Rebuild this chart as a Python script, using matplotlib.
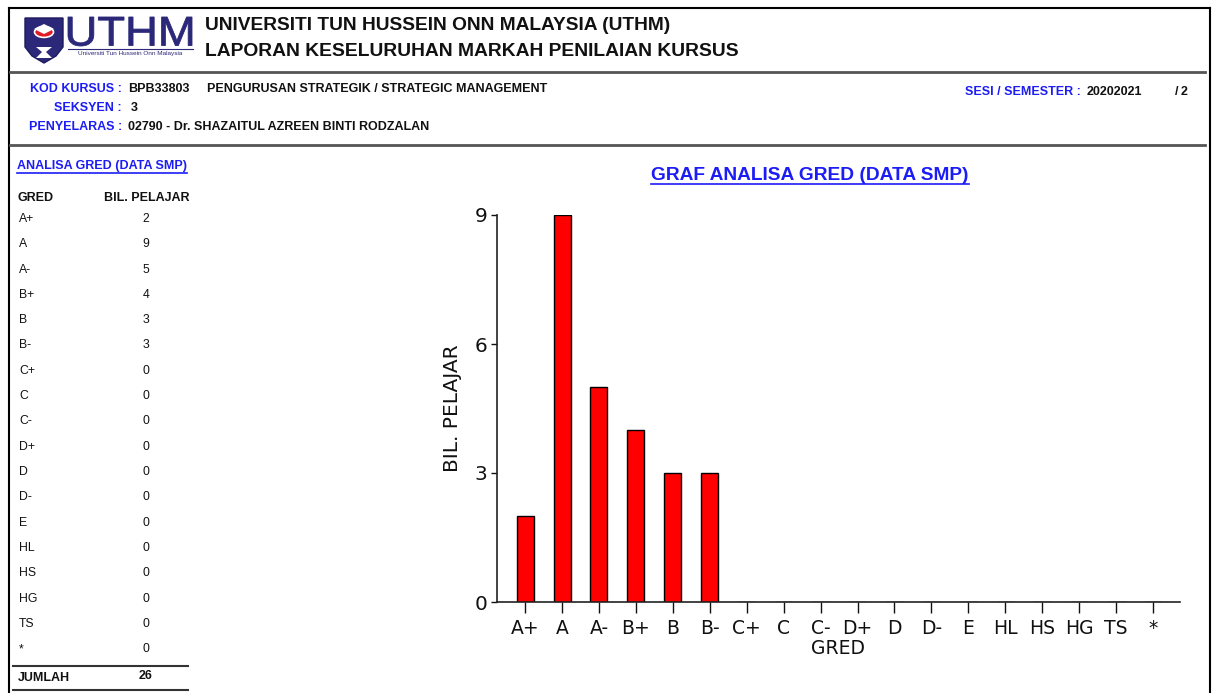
import matplotlib
matplotlib.use("Agg")
import matplotlib.pyplot as plt
from matplotlib.patches import Polygon, Circle, PathPatch
from matplotlib.lines import Line2D
from matplotlib.textpath import TextPath
from matplotlib.font_manager import FontProperties
import matplotlib.transforms as mtransforms

# --- data ---
grades = ["A+", "A", "A-", "B+", "B", "B-", "C+", "C", "C-", "D+",
          "D", "D-", "E", "HL", "HS", "HG", "TS", "*"]
counts = [2, 9, 5, 4, 3, 3, 0, 0, 0, 0, 0, 0, 0, 0, 0, 0, 0, 0]
yticks = [0, 3, 6, 9]

kod_kursus = "BPB33803"
nama_kursus = "PENGURUSAN STRATEGIK / STRATEGIC MANAGEMENT"
seksyen = "3"
penyelaras = "02790 - Dr. SHAZAITUL AZREEN BINTI RODZALAN"
sesi = "20202021"
semester = "2"

W, H = 1218, 693
BLUE = "#1c1cf5"
NAVY = "#2b2879"
ARIAL = "Liberation Sans"

fig = plt.figure(figsize=(W / 100, H / 100), dpi=100)


def px(x, y):
    return x / W, 1 - y / H


def txt(x, y, s, **kw):
    kw.setdefault("family", ARIAL)
    kw.setdefault("va", "center")
    return fig.text(*px(x, y), s, **kw)


def hline(x0, x1, y, color="#555555", lw=2.0):
    fig.add_artist(Line2D([x0 / W, x1 / W], [1 - y / H, 1 - y / H],
                          color=color, lw=lw, transform=fig.transFigure))


def vline(x, y0, y1, color="black", lw=1.5):
    fig.add_artist(Line2D([x / W, x / W], [1 - y0 / H, 1 - y1 / H],
                          color=color, lw=lw, transform=fig.transFigure))


def squeezed(s, x0, x1, ytop, ybot, bold=False, color=NAVY):
    # text stretched into a pixel box (logo lettering is condensed)
    tp = TextPath((0, 0), s, size=100,
                  prop=FontProperties(family=ARIAL, weight="bold" if bold else "normal"))
    bb = tp.get_extents()
    tr = (mtransforms.Affine2D().translate(-bb.x0, -bb.y0)
          .scale((x1 - x0) / bb.width, (ybot - ytop) / bb.height)
          .translate(x0, H - ybot))
    fig.add_artist(PathPatch(tp, transform=tr, facecolor=color, edgecolor=color, lw=0.6))


# page border
hline(9, 1210, 8, color="black", lw=1.5)
vline(9, 8, 693)
vline(1210, 8, 693)

# --- logo ---
shield = [(25, 18), (63, 18), (63, 47), (56, 56), (44, 63), (32, 56), (25, 47)]
fig.add_artist(Polygon([px(*p) for p in shield], closed=True, facecolor=NAVY,
                       edgecolor="#1d1a5e", lw=1, transform=fig.transFigure))
fig.add_artist(Circle(px(44, 32), 9.5 / W, facecolor="#e01b24", edgecolor="white",
                      lw=1.2, transform=fig.transFigure))
fig.add_artist(Polygon([px(*p) for p in [(34, 29), (44, 24), (54, 29), (44, 34)]],
                       closed=True, facecolor="white", edgecolor="none",
                       transform=fig.transFigure))
fig.add_artist(Polygon([px(*p) for p in [(36, 47), (52, 47), (46, 52), (52, 58),
                                         (36, 58), (42, 52)]],
                       closed=True, facecolor="white", edgecolor="none",
                       transform=fig.transFigure))
squeezed("UTHM", 68, 192, 17, 46)
hline(68, 193, 48.5, color=NAVY, lw=0.8)
txt(130, 53, "Universiti Tun Hussein Onn Malaysia", fontsize=4.6, color=NAVY, ha="center")

# --- header ---
txt(205, 25, "UNIVERSITI TUN HUSSEIN ONN MALAYSIA (UTHM)", fontsize=13.8,
    fontweight="bold", color="#111111")
txt(205, 52, "LAPORAN KESELURUHAN MARKAH PENILAIAN KURSUS", fontsize=13.9,
    fontweight="bold", color="#111111")
hline(10, 1205, 72)

fs_info = 9
txt(122, 89, "KOD KURSUS :", fontsize=fs_info, fontweight="bold", color=BLUE, ha="right")
txt(128, 89, kod_kursus, fontsize=fs_info, fontweight="bold", color="#111111")
txt(207, 89, nama_kursus, fontsize=fs_info, fontweight="bold", color="#111111")
txt(122, 108, "SEKSYEN :", fontsize=fs_info, fontweight="bold", color=BLUE, ha="right")
txt(131, 108, seksyen, fontsize=fs_info, fontweight="bold", color="#111111")
txt(122, 127, "PENYELARAS :", fontsize=fs_info, fontweight="bold", color=BLUE, ha="right")
txt(128, 127, penyelaras, fontsize=fs_info, fontweight="bold", color="#111111")
txt(1081, 92, "SESI / SEMESTER :", fontsize=fs_info, fontweight="bold", color=BLUE, ha="right")
txt(1087, 92, sesi, fontsize=fs_info, fontweight="bold", color="#111111")
txt(1175, 92, "/", fontsize=fs_info, fontweight="bold", color="#111111")
txt(1181, 92, semester, fontsize=fs_info, fontweight="bold", color="#111111")
hline(10, 1205, 145)

# --- left table ---
underlined = []
underlined.append(txt(17, 166, "ANALISA GRED (DATA SMP)", fontsize=9,
                      fontweight="bold", color=BLUE))
txt(18, 198, "GRED", fontsize=9, fontweight="bold", color="#111111")
txt(104, 198, "BIL. PELAJAR", fontsize=9, fontweight="bold", color="#111111")
row_y0, row_dy = 219, 25.3
for i, (g, c) in enumerate(zip(grades, counts)):
    y = row_y0 + i * row_dy
    txt(19, y, g, fontsize=8.8, color="#111111")
    txt(146, y, str(c), fontsize=8.8, color="#111111", ha="center")
hline(13, 188, 666, color="#333333", lw=1.5)
txt(18, 678, "JUMLAH", fontsize=9, fontweight="bold", color="#111111")
txt(146, 676, str(sum(counts)), fontsize=9, fontweight="bold", color="#111111", ha="center")
hline(13, 188, 690, color="#333333", lw=1.5)

# --- chart ---
underlined.append(txt(810, 175, "GRAF ANALISA GRED (DATA SMP)", fontsize=13.8,
                      fontweight="bold", color=BLUE, ha="center"))

ax = fig.add_axes([497 / W, 1 - 602 / H, (1180 - 497) / W, (602 - 215) / H])
x = list(range(len(grades)))
ax.bar(x, counts, width=0.46, color="#ff0000", edgecolor="black", linewidth=1, zorder=2)
ax.set_xlim(-0.76, len(grades) - 1 + 0.73)
ax.set_ylim(0, 9)
ax.set_yticks(yticks)
ax.set_xticks(x)
ax.set_xticklabels(grades)
for s in ["top", "right"]:
    ax.spines[s].set_visible(False)
for s in ["left", "bottom"]:
    ax.spines[s].set_color("#222222")
    ax.spines[s].set_linewidth(1.2)
ax.tick_params(axis="y", length=4, width=1, labelsize=14.5, pad=3, colors="#111111")
ax.tick_params(axis="x", length=8, width=1, labelsize=13.5, pad=4, colors="#111111")
ax.set_xlabel("GRED", fontsize=13.5, labelpad=1, color="#111111")
ax.set_ylabel("BIL. PELAJAR", fontsize=14.5, labelpad=9, color="#111111")

# underline blue headings
fig.canvas.draw()
r = fig.canvas.get_renderer()
for t in underlined:
    bbox = t.get_window_extent(renderer=r)
    fig.add_artist(Line2D([bbox.x0 / W, bbox.x1 / W], [(bbox.y0 - 0.5) / H] * 2,
                          color=BLUE, lw=1.2, transform=fig.transFigure))

fig.savefig("out.png", dpi=100, facecolor="white")
